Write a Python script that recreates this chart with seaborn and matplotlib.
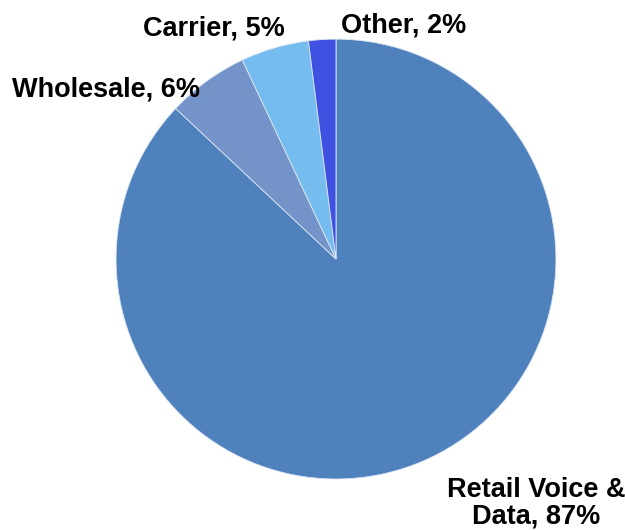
import matplotlib
matplotlib.use("Agg")
import matplotlib.pyplot as plt
import seaborn as sns

# Revenue mix by segment
segments = ["Retail Voice &\nData", "Wholesale", "Carrier", "Other"]
shares = [87, 6, 5, 2]
colors = ["#4F81BD", "#7393C9", "#75BDEE", "#3F51E0"]

sns.set_theme(style="white")
plt.rcParams["font.family"] = ["Liberation Sans", "DejaVu Sans"]

fig = plt.figure(figsize=(6.25, 5.3), dpi=100)
ax = fig.add_axes([0.1856, 0.0962, 0.704, 0.830])

ax.pie(shares, colors=sns.color_palette(colors), startangle=90, counterclock=False,
       radius=1.0, wedgeprops=dict(edgecolor="#DCE6F2", linewidth=0.6))
ax.set_xlim(-1, 1)
ax.set_ylim(-1, 1)
ax.set_aspect("equal")
ax.axis("off")

# Label anchors (data units, relative to the pie centre; y is the last baseline)
label_pos = {
    "Retail Voice &\nData": (0.909, -1.2),
    "Wholesale": (-1.045, 0.741),
    "Carrier": (-0.555, 1.018),
    "Other": (0.309, 1.032),
}
for seg, val in zip(segments, shares):
    x, y = label_pos[seg]
    ax.text(x, y, f"{seg}, {val}%", ha="center", va="baseline", fontsize=19.5,
            fontweight="bold", color="black", linespacing=1.02)

fig.savefig("out.png", dpi=100, facecolor="white")
